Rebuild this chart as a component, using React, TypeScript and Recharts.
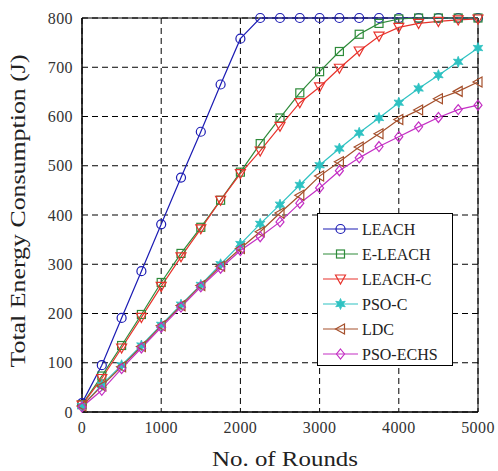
import React from 'react';
import {
  LineChart,
  Line,
  XAxis,
  YAxis,
  CartesianGrid,
  ReferenceArea,
  Legend,
} from 'recharts';

// rounds sampled every 250
const rounds = [
  0, 250, 500, 750, 1000, 1250, 1500, 1750, 2000, 2250, 2500,
  2750, 3000, 3250, 3500, 3750, 4000, 4250, 4500, 4750, 5000,
];

const leach = [18, 95, 191, 286, 381, 476, 569, 665, 758, 800, 800, 800, 800, 800, 800, 800, 800, 800, 800, 800, 800];
const eLeach = [15, 73, 135, 198, 263, 322, 375, 430, 487, 545, 597, 648, 691, 732, 767, 789, 798, 800, 800, 800, 800];
const leachC = [14, 68, 130, 192, 255, 315, 372, 430, 484, 530, 580, 628, 660, 698, 733, 763, 781, 789, 793, 796, 798];
const psoC = [12, 55, 95, 135, 177, 218, 258, 300, 341, 382, 421, 461, 501, 535, 567, 597, 628, 657, 684, 711, 739];
const ldc = [12, 53, 92, 133, 175, 216, 257, 296, 332, 366, 404, 440, 479, 508, 538, 565, 594, 613, 636, 651, 670];
const psoEchs = [10, 44, 88, 130, 172, 213, 254, 292, 328, 356, 386, 424, 455, 490, 516, 539, 559, 579, 598, 614, 623];

const xTicks = [0, 1000, 2000, 3000, 4000, 5000];
const yTicks = [0, 100, 200, 300, 400, 500, 600, 700, 800];

type Shape = 'circle' | 'square' | 'triDown' | 'star' | 'triLeft' | 'diamond';

interface Series {
  key: string;
  name: string;
  values: number[];
  color: string;
  shape: Shape;
}

const SERIES: Series[] = [
  { key: 'leach', name: 'LEACH', values: leach, color: '#1c1cb4', shape: 'circle' },
  { key: 'eLeach', name: 'E-LEACH', values: eLeach, color: '#2e8b3a', shape: 'square' },
  { key: 'leachC', name: 'LEACH-C', values: leachC, color: '#e8332c', shape: 'triDown' },
  { key: 'psoC', name: 'PSO-C', values: psoC, color: '#2ec2c2', shape: 'star' },
  { key: 'ldc', name: 'LDC', values: ldc, color: '#a5502c', shape: 'triLeft' },
  { key: 'psoEchs', name: 'PSO-ECHS', values: psoEchs, color: '#c430c4', shape: 'diamond' },
];

const FONT = "'Liberation Serif', 'Times New Roman', serif";

const chartData = rounds.map((round, i) => {
  const row: Record<string, number> = { round };
  for (const s of SERIES) row[s.key] = s.values[i];
  return row;
});

function starPoints(cx: number, cy: number, ro: number, ri: number): string {
  const pts: string[] = [];
  for (let i = 0; i < 12; i++) {
    const r = i % 2 === 0 ? ro : ri;
    const a = (Math.PI / 6) * i - Math.PI / 2;
    pts.push(`${cx + r * Math.cos(a)},${cy + r * Math.sin(a)}`);
  }
  return pts.join(' ');
}

function Marker({ cx, cy, shape, color }: { cx: number; cy: number; shape: Shape; color: string }) {
  const sw = 1.2;
  switch (shape) {
    case 'circle':
      return <circle cx={cx} cy={cy} r={4.5} fill="none" stroke={color} strokeWidth={sw} />;
    case 'square':
      return <rect x={cx - 4} y={cy - 4} width={8} height={8} fill="none" stroke={color} strokeWidth={sw} />;
    case 'triDown':
      return (
        <polygon
          points={`${cx - 5},${cy - 4} ${cx + 5},${cy - 4} ${cx},${cy + 5}`}
          fill="none"
          stroke={color}
          strokeWidth={sw}
        />
      );
    case 'star':
      return <polygon points={starPoints(cx, cy, 5.5, 2.6)} fill={color} stroke={color} strokeWidth={0.8} />;
    case 'triLeft':
      return (
        <polygon
          points={`${cx - 5},${cy} ${cx + 4},${cy - 5} ${cx + 4},${cy + 5}`}
          fill="none"
          stroke={color}
          strokeWidth={sw}
        />
      );
    case 'diamond':
      return (
        <polygon
          points={`${cx},${cy - 5} ${cx + 4},${cy} ${cx},${cy + 5} ${cx - 4},${cy}`}
          fill="none"
          stroke={color}
          strokeWidth={sw}
        />
      );
    default:
      return null;
  }
}

function LegendBox() {
  return (
    <div
      style={{
        width: 136,
        height: 153,
        boxSizing: 'border-box',
        border: '1px solid #000',
        background: '#fff',
      }}
    >
      <svg width={134} height={151}>
        {SERIES.map((s, i) => {
          const y = 15 + i * 25;
          return (
            <g key={s.key}>
              <line x1={5} x2={40} y1={y} y2={y} stroke={s.color} strokeWidth={1.2} />
              <Marker cx={22.5} cy={y} shape={s.shape} color={s.color} />
              <text x={44} y={y + 5.5} style={{ fontFamily: FONT }} fontSize={16} fill="#222">
                {s.name}
              </text>
            </g>
          );
        })}
      </svg>
    </div>
  );
}

function XTick(props: any) {
  const { x, y, payload } = props;
  return (
    <text
      x={x}
      y={y + 21}
      textAnchor="middle"
      style={{ fontFamily: FONT }}
      fontSize={16}
      fill="#333"
      letterSpacing={0.4}
    >
      {payload.value}
    </text>
  );
}

function YTick(props: any) {
  const { x, y, payload } = props;
  return (
    <text
      x={x - 9}
      y={y + 5.5}
      textAnchor="end"
      style={{ fontFamily: FONT }}
      fontSize={16}
      fill="#333"
      letterSpacing={0.4}
    >
      {payload.value}
    </text>
  );
}

function XLabel(props: any) {
  const vb = props.viewBox || {};
  const cx = vb.x + vb.width / 2 + 5;
  return (
    <text
      x={cx}
      y={466}
      textAnchor="middle"
      style={{ fontFamily: FONT }}
      fontSize={20}
      fill="#222"
      textLength={146}
      lengthAdjust="spacingAndGlyphs"
    >
      No. of Rounds
    </text>
  );
}

function YLabel() {
  const x = 25;
  const y = 211;
  return (
    <text
      x={x}
      y={y}
      transform={`rotate(-90, ${x}, ${y})`}
      textAnchor="middle"
      style={{ fontFamily: FONT }}
      fontSize={20}
      fill="#222"
      textLength={313}
      lengthAdjust="spacingAndGlyphs"
    >
      Total Energy Consumption (J)
    </text>
  );
}

export default function App() {
  return (
    <div
      style={{
        position: 'absolute',
        left: 0,
        top: 0,
        width: 498,
        height: 471,
        background: '#fff',
        fontFamily: FONT,
      }}
    >
      <LineChart width={498} height={471} data={chartData} margin={{ top: 18, right: 20, bottom: 0, left: 0 }}>
        <CartesianGrid stroke="#000" strokeDasharray="6 4" strokeWidth={1} />
        <XAxis
          dataKey="round"
          type="number"
          domain={[0, 5000]}
          ticks={xTicks}
          height={59}
          tickSize={0}
          tickMargin={0}
          tick={<XTick />}
          axisLine={{ stroke: '#000' }}
          interval={0}
          label={<XLabel />}
        />
        <YAxis
          type="number"
          domain={[0, 800]}
          ticks={yTicks}
          width={82}
          tickSize={0}
          tickMargin={0}
          tick={<YTick />}
          axisLine={{ stroke: '#000' }}
          interval={0}
          label={<YLabel />}
        />
        <ReferenceArea x1={0} x2={5000} y1={0} y2={800} fill="none" fillOpacity={0} stroke="#000" strokeWidth={1} />
        {SERIES.map((s) => (
          <Line
            key={s.key}
            dataKey={s.key}
            name={s.name}
            type="linear"
            stroke={s.color}
            strokeWidth={1.2}
            isAnimationActive={false}
            dot={(p: any) => (
              <Marker key={`${s.key}-${p.index}`} cx={p.cx} cy={p.cy} shape={s.shape} color={s.color} />
            )}
            activeDot={false}
          />
        ))}
        <Legend
          layout="horizontal"
          align="center"
          verticalAlign="middle"
          content={() => <LegendBox />}
          wrapperStyle={{ position: 'absolute', left: 317, top: 213, width: 136, height: 153 }}
        />
      </LineChart>
    </div>
  );
}
